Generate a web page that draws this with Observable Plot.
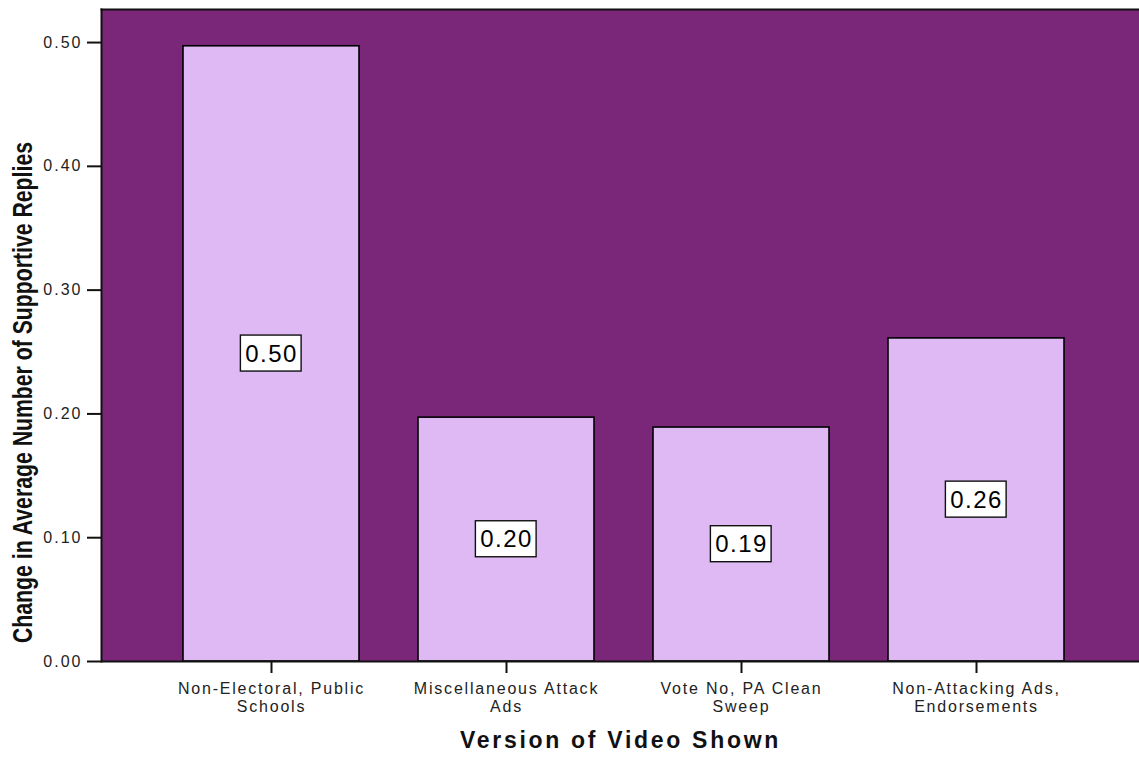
<!DOCTYPE html>
<html>
<head>
<meta charset="utf-8">
<script src="https://cdn.jsdelivr.net/npm/d3@7"></script>
<script src="https://cdn.jsdelivr.net/npm/@observablehq/plot@0.6"></script>
<style>
  html, body { margin: 0; padding: 0; background: #fff; overflow: hidden; }
  #chart svg { display: block; font-family: Arial, "Liberation Sans", sans-serif; }
  g[aria-label="y-axis tick label"] text { letter-spacing: 2px; font-size: 16px; }
  g[aria-label="x-axis tick label"] text { letter-spacing: 1.8px; font-size: 16px; }
  .bar-value text { letter-spacing: 1.5px; }
  .x-title text { letter-spacing: 2.7px; }
</style>
</head>
<body>
<div id="chart"></div>
<script>
// Categories (video versions) and the change in average number of supportive replies
const categories = [
  "Non-Electoral, Public\nSchools",
  "Miscellaneous Attack\nAds",
  "Vote No, PA Clean\nSweep",
  "Non-Attacking Ads,\nEndorsements"
];
const values = [0.497, 0.197, 0.189, 0.261];
const yTicks = [0, 0.1, 0.2, 0.3, 0.4, 0.5];
const yMax = 0.5267;
const xTitle = "Version of Video Shown";
const yTitle = "Change in Average Number of Supportive Replies";

const fmt = d3.format(".2f");
const data = categories.map((c, i) => ({category: c, value: values[i]}));

const plotBg = "#7b2779";
const barFill = "#dfb9f3";

const chart = Plot.plot({
  width: 1139,
  height: 757,
  marginLeft: 101,
  marginRight: 0,
  marginTop: 9,
  marginBottom: 96,
  x: {domain: categories, paddingInner: 0.25, paddingOuter: 0.328, align: 0.52, label: null},
  y: {domain: [0, yMax], label: null},
  marks: [
    Plot.frame({fill: plotBg}),
    Plot.barY(data, {x: "category", y: "value", fill: barFill, stroke: "#000", strokeWidth: 1.6}),
    Plot.text(data, {
      x: "category", y: d => d.value / 2, text: d => fmt(d.value),
      fontSize: 24, fill: "#000"
    }),
    Plot.frame({anchor: "top", stroke: "#111", strokeWidth: 2}),
    Plot.frame({anchor: "left", stroke: "#111", strokeWidth: 2}),
    Plot.ruleY([0], {stroke: "#111", strokeWidth: 2}),
    Plot.axisY({
      ticks: yTicks, tickFormat: ".2f", tickSize: 14, tickPadding: 5,
      fontSize: 16, fill: "#222", stroke: "#111", strokeWidth: 2, label: null
    }),
    Plot.axisX({
      tickSize: 12, tickPadding: 8, fontSize: 16, lineHeight: 1.125,
      fill: "#222", stroke: "#111", strokeWidth: 2, label: null
    }),
    Plot.text([xTitle], {
      frameAnchor: "bottom", dy: 86, fontSize: 23, fontWeight: "bold", fill: "#111"
    }),
    Plot.text([yTitle], {
      frameAnchor: "left", rotate: -90, dx: -78, dy: 57,
      fontSize: 27, fontWeight: "bold", fill: "#111"
    })
  ]
});

document.getElementById("chart").append(chart);

// Text mark groups, in mark order: bar values, x title, y title
const textGroups = chart.querySelectorAll('g[aria-label="text"]');
const [valueGroup, xTitleGroup, yTitleGroup] = textGroups;
valueGroup.classList.add("bar-value");
xTitleGroup.classList.add("x-title");

// Condensed y title, laid out from its start so the squeeze stays centred
const yTitleLength = 501;
const yText = yTitleGroup.querySelector("text");
yText.setAttribute("text-anchor", "start");
yText.setAttribute("x", -yTitleLength / 2);
yText.setAttribute("textLength", yTitleLength);
yText.setAttribute("lengthAdjust", "spacingAndGlyphs");

// White boxed value labels centred on each bar
valueGroup.querySelectorAll("text").forEach(function (el) {
  const b = el.getBBox();
  const cx = b.x + b.width / 2 - 0.75;
  const cy = b.y + b.height / 2;
  const w = b.width + 8;
  const h = 36;
  const rect = document.createElementNS("http://www.w3.org/2000/svg", "rect");
  rect.setAttribute("x", cx - w / 2);
  rect.setAttribute("y", cy - h / 2);
  rect.setAttribute("width", w);
  rect.setAttribute("height", h);
  rect.setAttribute("fill", "#fff");
  rect.setAttribute("stroke", "#111");
  rect.setAttribute("stroke-width", 1.4);
  const t = el.getAttribute("transform");
  if (t) rect.setAttribute("transform", t);
  el.parentNode.insertBefore(rect, el);
});
</script>
</body>
</html>
